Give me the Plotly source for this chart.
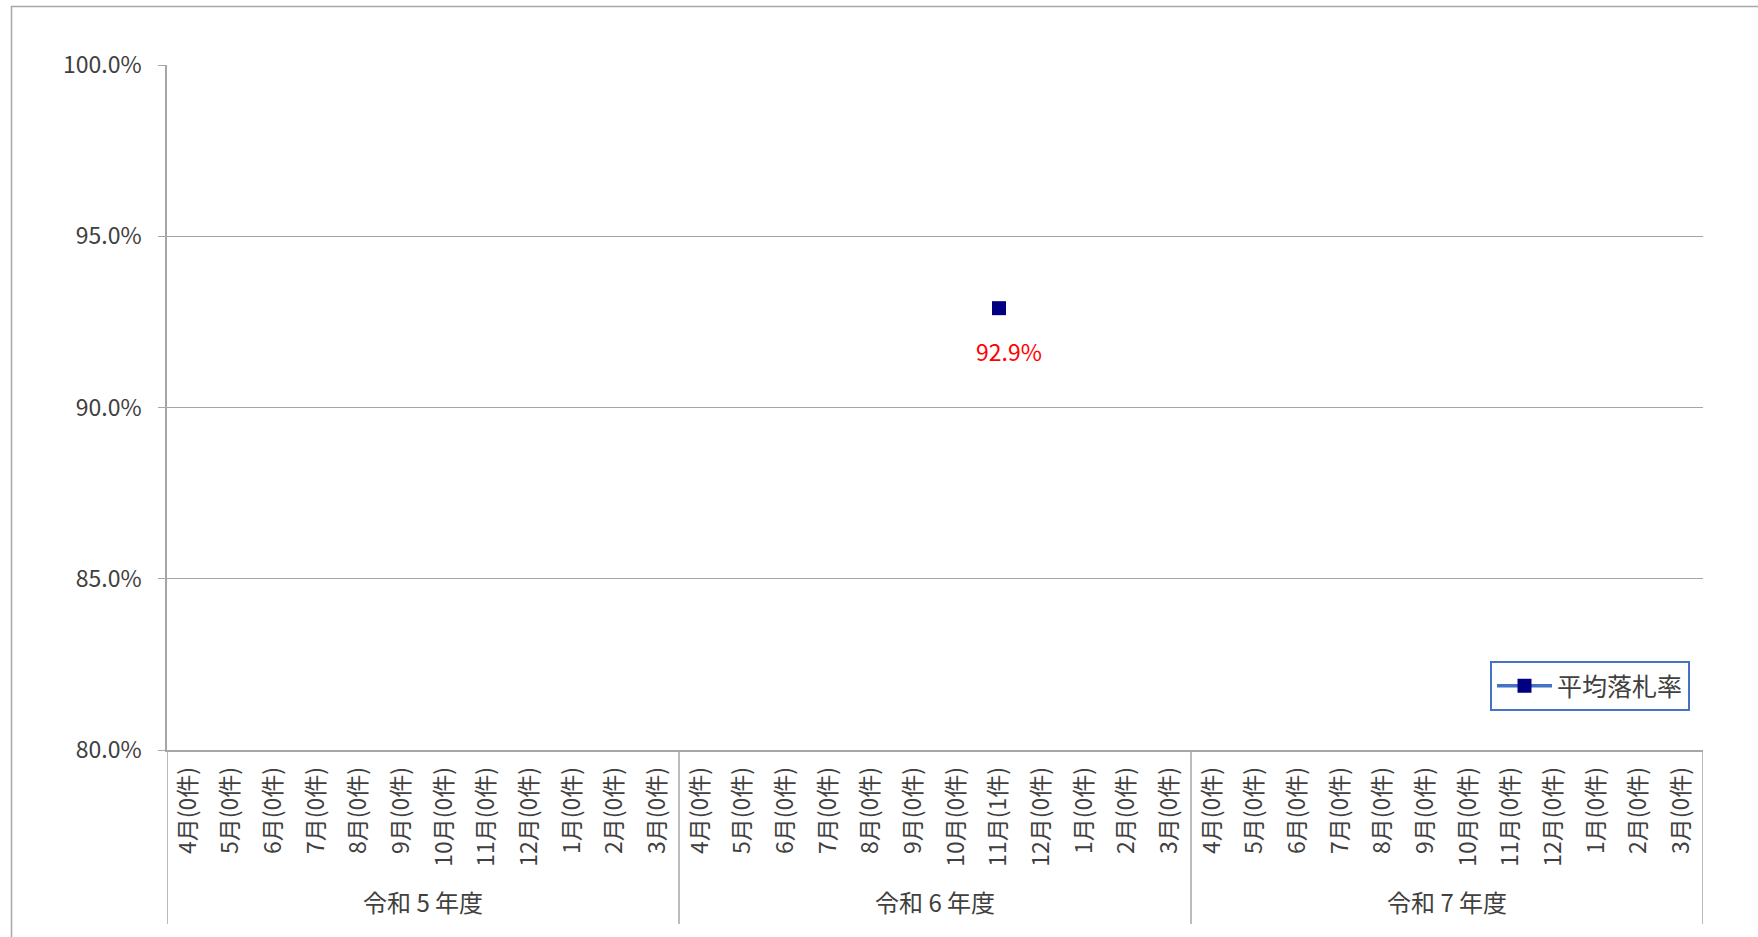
import plotly.graph_objects as go

# --- データ ---
years = ["令和 5 年度", "令和 6 年度", "令和 7 年度"]
months = ["4月", "5月", "6月", "7月", "8月", "9月", "10月", "11月", "12月", "1月", "2月", "3月"]
counts_r5 = [0, 0, 0, 0, 0, 0, 0, 0, 0, 0, 0, 0]
counts_r6 = [0, 0, 0, 0, 0, 0, 0, 1, 0, 0, 0, 0]
counts_r7 = [0, 0, 0, 0, 0, 0, 0, 0, 0, 0, 0, 0]
rate_r5 = [None] * 12
rate_r6 = [None, None, None, None, None, None, None, 0.929, None, None, None, None]
rate_r7 = [None] * 12

FONT = "Noto Sans CJK JP"
GRID = "#A6A6A6"
TXT = "#404040"

# x 軸（年度 × 月）を通し番号で並べる
ticktext, rates = [], []
for cnts, rs in zip([counts_r5, counts_r6, counts_r7], [rate_r5, rate_r6, rate_r7]):
    for m, c, r in zip(months, cnts, rs):
        ticktext.append(f"{m}({c}件)")
        rates.append(r)
xs = list(range(len(ticktext)))
n = len(months)

fig = go.Figure()
fig.add_trace(go.Scatter(
    x=xs, y=rates,
    mode="lines+markers",
    name="平均落札率",
    line=dict(color="#4472C4", width=3.5),
    marker=dict(symbol="square", size=14, color="#000080"),
    cliponaxis=False,
))

# データラベル（赤）
for x, r in zip(xs, rates):
    if r is not None:
        fig.add_annotation(x=x, y=r, text=f"{r*100:.1f}%", showarrow=False,
                           xshift=10, yshift=-43,
                           font=dict(color="#FF0000", size=23, family=FONT))

L, R, T, B = 167, 1703, 65, 750
pw, ph = R - L, B - T

# 年度の区切り線と年度ラベル
for i, yname in enumerate(years):
    fig.add_shape(type="line", xref="x", yref="paper",
                  x0=i * n - 0.5, x1=i * n - 0.5, y0=0, y1=(B - 924) / ph,
                  line=dict(color=GRID, width=1.5))
    fig.add_annotation(x=i * n + (n - 1) / 2, xref="x", yref="paper",
                       y=(B - 901) / ph, yanchor="middle", text=yname, showarrow=False,
                       font=dict(size=24, family=FONT, color=TXT))
fig.add_shape(type="line", xref="x", yref="paper",
              x0=len(xs) - 0.5, x1=len(xs) - 0.5, y0=0, y1=(B - 924) / ph,
              line=dict(color=GRID, width=1.5))

# 外枠
fig.add_shape(type="rect", xref="paper", yref="paper",
              x0=(11.5 - L) / pw, x1=(1780 - L) / pw,
              y0=(B - 960) / ph, y1=(B - 6.5) / ph,
              line=dict(color=GRID, width=1.5), layer="below")

fig.update_xaxes(
    range=[-0.5, len(xs) - 0.5],
    tickmode="array", tickvals=xs, ticktext=ticktext,
    showline=True, linecolor=GRID, linewidth=1.5,
    tickangle=-90, ticks="", ticklabelstandoff=6,
    tickfont=dict(size=23, family=FONT, color=TXT),
    showgrid=False, zeroline=False,
)
fig.update_yaxes(
    range=[0.8, 1.0], dtick=0.05, tickformat=".1%",
    showgrid=True, gridcolor=GRID, gridwidth=1.2,
    showline=True, linecolor=GRID, linewidth=1.5,
    ticks="outside", ticklen=7, tickcolor=GRID,
    ticklabelstandoff=12,
    tickfont=dict(size=23, family=FONT, color=TXT),
    zeroline=False,
)

fig.update_layout(
    width=1758, height=937,
    margin=dict(l=L, r=1758 - R, t=T, b=937 - B, autoexpand=False),
    plot_bgcolor="white", paper_bgcolor="white",
    font=dict(family=FONT, size=20, color=TXT),
    showlegend=True,
    legend=dict(
        x=(1690 - L) / pw, xanchor="right",
        y=(B - 686) / ph, yanchor="middle",
        bordercolor="#4472C4", borderwidth=2,
        bgcolor="white", itemwidth=55,
        font=dict(size=25, family=FONT, color=TXT),
    ),
)

fig.write_html("out.html", config={"displayModeBar": False},
               post_script="document.body.style.margin='0';")
